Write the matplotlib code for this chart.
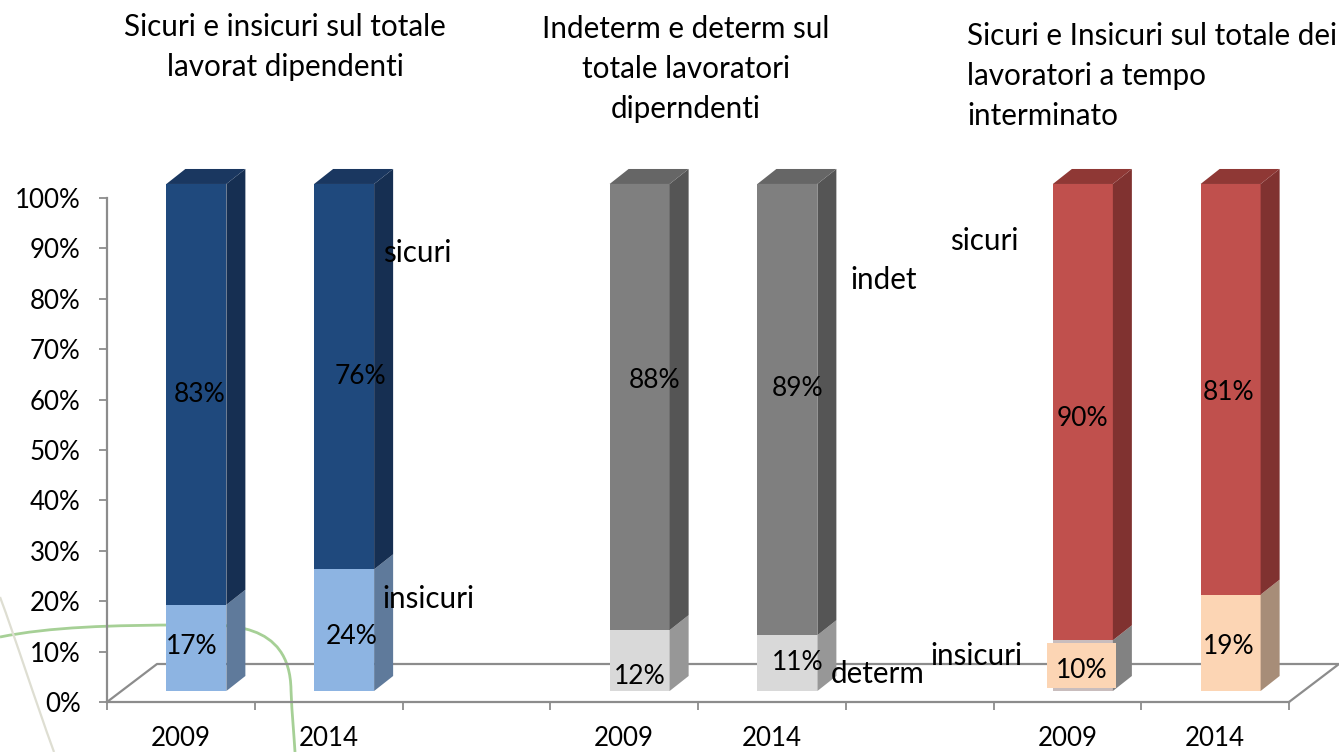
import matplotlib
matplotlib.use("Agg")
import matplotlib.pyplot as plt
from matplotlib.path import Path
from matplotlib.patches import PathPatch

# ---------- data ----------
groups = ["2009", "2014", "", "2009", "2014", "", "2009", "2014"]
lower = {0: 17, 1: 24, 3: 12, 4: 11, 6: 10, 7: 19}
upper = {0: 83, 1: 76, 3: 88, 4: 89, 6: 90, 7: 81}
y_ticks = list(range(0, 101, 10))

titles = [
    ("Sicuri e insicuri sul totale\nlavorat dipendenti", 285, 47, "center"),
    ("Indeterm e determ sul\ntotale lavoratori\ndiperndenti", 686, 69, "center"),
    ("Sicuri e Insicuri sul totale dei\nlavoratori a tempo\ninterminato", 967, 76, "left"),
]
notes = [
    ("sicuri", 383, 253), ("insicuri", 382, 599),
    ("indet", 850, 280), ("determ", 831, 674),
    ("sicuri", 950, 241), ("insicuri", 930, 656),
]
upper_label_px = {0: (200, 394), 1: (360, 377), 3: (655, 381), 4: (798, 388), 6: (1082, 418), 7: (1229, 393)}
lower_label_px = {0: (192, 646), 1: (352, 636), 3: (640, 676), 4: (798, 662), 6: (1082, 670), 7: (1229, 647)}

# colours: (front, side, top)
up_col = {0: ("#1F497D", "#162F52", "#1A3760"), 1: ("#1F497D", "#162F52", "#1A3760"),
          3: ("#7F7F7F", "#555555", "#666666"), 4: ("#7F7F7F", "#555555", "#666666"),
          6: ("#C0504D", "#803230", "#8F3835"), 7: ("#C0504D", "#803230", "#8F3835")}
lo_col = {0: ("#8DB4E2", "#5F7A9B"), 1: ("#8DB4E2", "#5F7A9B"),
          3: ("#D9D9D9", "#979797"), 4: ("#D9D9D9", "#979797"),
          6: ("#C9BDBD", "#828282"), 7: ("#FCD5B4", "#A78D78")}
PEACH = "#FCD5B4"
AXC = "#8C8C8C"
FONT = "Lato"
FS_TICK = 18.6
FS_LABEL = 19
FS_TEXT = 21.3

W, H = 1339, 752
L, R, T, B = 107, 1289, 198, 702
fig = plt.figure(figsize=(W / 100, H / 100), dpi=100, facecolor="white")
plt.rcParams["font.family"] = FONT

# pixel-space layers
back = fig.add_axes([0, 0, 1, 1], zorder=0)
back.set_xlim(0, W); back.set_ylim(H, 0); back.axis("off")
front = fig.add_axes([0, 0, 1, 1], zorder=3)
front.set_xlim(0, W); front.set_ylim(H, 0); front.axis("off"); front.patch.set_alpha(0)

# decorative background curves
c = [Path.MOVETO, Path.CURVE4, Path.CURVE4, Path.CURVE4, Path.CURVE4, Path.CURVE4, Path.CURVE4]
green = Path([(0, 637), (50, 627), (110, 625), (190, 625), (225, 625), (290, 620), (291, 690)], c)
green2 = Path([(291, 690), (292, 715), (294, 735), (295, 752)], c[:4])
back.add_patch(PathPatch(green, fc="none", ec="#A6D096", lw=2))
back.add_patch(PathPatch(green2, fc="none", ec="#A6D096", lw=2))
grey = Path([(0, 597), (15, 637), (35, 700), (54, 752)], c[:4])
back.add_patch(PathPatch(grey, fc="none", ec="#DEDED2", lw=1.6))

# main chart
ax = fig.add_axes([L / W, 1 - B / H, (R - L) / W, (B - T) / H], zorder=1)
ax.patch.set_alpha(0)
ax.set_xlim(0, 8); ax.set_ylim(0, 100)
px_x = (R - L) / 8; px_y = (B - T) / 100
OX, OY = 15.5 / px_x, 11 / px_y
DX, DY = 19 / px_x, 15 / px_y
FX, FY = 50 / px_x, 38 / px_y
BW = 60 / px_x
SCALE = 1.006  # bars stand on a plane slightly nearer the viewer than the axis

# floor
ax.plot([0, FX, 8 + FX, 8], [0, FY, FY, 0], color=AXC, lw=1.6, clip_on=False, zorder=1)

for i, name in enumerate(groups):
    if i not in lower:
        continue
    c0 = i + 0.5 + OX
    x1 = c0 + BW / 2
    lo, up = lower[i] * SCALE, upper[i] * SCALE
    ax.bar(c0, lo, BW, bottom=OY, color=lo_col[i][0], clip_on=False, zorder=3)
    ax.bar(c0, up, BW, bottom=OY + lo, color=up_col[i][0], clip_on=False, zorder=3)
    b, m, t = OY, OY + lo, OY + lo + up
    ax.fill([x1, x1 + DX, x1 + DX, x1], [b, b + DY, m + DY, m], color=lo_col[i][1], lw=0, clip_on=False, zorder=3)
    ax.fill([x1, x1 + DX, x1 + DX, x1], [m, m + DY, t + DY, t], color=up_col[i][1], lw=0, clip_on=False, zorder=3)
    ax.fill([x1 - BW, x1, x1 + DX, x1 - BW + DX], [t, t, t + DY, t + DY], color=up_col[i][2], lw=0, clip_on=False, zorder=3)

for s in ("top", "right"):
    ax.spines[s].set_visible(False)
for s in ("left", "bottom"):
    ax.spines[s].set_color(AXC); ax.spines[s].set_linewidth(1.6); ax.spines[s].set_zorder(2)

ax.set_yticks(y_ticks, [f"{v}%" for v in y_ticks], fontsize=FS_TICK, fontfamily=FONT)
ax.tick_params(axis="y", length=6, width=1.3, color=AXC, pad=13)
ax.set_xticks(range(9), [""] * 9)
ax.tick_params(axis="x", which="major", length=6, width=1.3, color=AXC)
centres = [i + 0.5 for i, g in enumerate(groups) if g]
ax.set_xticks(centres, [g for g in groups if g], minor=True, fontsize=FS_TICK, fontfamily=FONT)
ax.tick_params(axis="x", which="minor", length=0, pad=17)

# text in pixel space
for txt, x, y, ha in titles:
    front.text(x, y, txt, ha=ha, va="center", fontsize=FS_TEXT, fontfamily=FONT, linespacing=1.53, ma=ha)
for txt, x, y in notes:
    front.text(x, y, txt, ha="left", va="center", fontsize=FS_TEXT, fontfamily=FONT)
for i, v in upper.items():
    x, y = upper_label_px[i]
    front.text(x, y, f"{v}%", ha="center", va="center", fontsize=FS_LABEL, fontfamily=FONT)
for i, v in lower.items():
    x, y = lower_label_px[i]
    if i == 6:
        front.add_patch(plt.Rectangle((1047, 643), 69, 45, fc=PEACH, ec="none"))
    front.text(x, y, f"{v}%", ha="center", va="center", fontsize=FS_LABEL, fontfamily=FONT)

fig.savefig("out.png", dpi=100)
